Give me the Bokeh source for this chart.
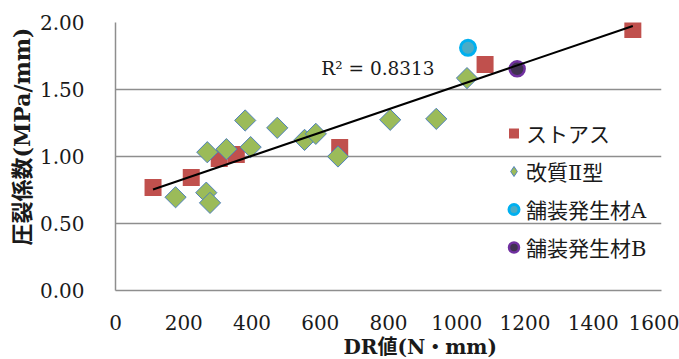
import numpy as np
from bokeh.plotting import figure
from bokeh.models import (Range1d, FixedTicker, NumeralTickFormatter, Label, Title,
                          Legend, LegendItem)
from bokeh.embed import file_html
from bokeh.resources import INLINE

# ---- data ----
stoas_x = [110, 222, 304, 354, 657, 1083, 1516]
stoas_y = [0.769, 0.843, 0.985, 1.015, 1.067, 1.687, 1.948]

kaishitsu_x = [176, 266, 277, 269, 325, 380, 396, 474, 554, 587, 652, 805, 940, 1030]
kaishitsu_y = [0.696, 0.730, 0.654, 1.032, 1.055, 1.269, 1.070, 1.214, 1.124, 1.169, 1.000, 1.274, 1.281, 1.585]

recycledA_x = [1033]
recycledA_y = [1.811]

recycledB_x = [1177]
recycledB_y = [1.654]

series_names = ["ストアス", "改質Ⅱ型", "舗装発生材A", "舗装発生材B"]
x_ticks = [0, 200, 400, 600, 800, 1000, 1200, 1400, 1600]
y_ticks = [0.0, 0.5, 1.0, 1.5, 2.0]
r2_text = "R² = 0.8313"
x_title = "DR値(N・mm)"
y_title = "圧裂係数(MPa/mm)"

SERIF = "DejaVu Serif, Noto Sans CJK JP"
INK = "#1a1a1a"
GRID = "#8E8E8E"

p = figure(width=679, height=359, output_backend="svg", toolbar_location=None,
           x_range=Range1d(0, 1600), y_range=Range1d(0, 2.0),
           min_border_left=115, min_border_right=18, min_border_top=22, min_border_bottom=69)
p.outline_line_color = None
p.background_fill_color = "white"

# axes
for ax in (p.xaxis[0], p.yaxis[0]):
    ax.axis_line_color = GRID
    ax.axis_line_width = 1.5
    ax.major_tick_line_color = None
    ax.minor_tick_line_color = None
    ax.major_tick_out = 0
    ax.major_tick_in = 0
    ax.minor_tick_out = 0
    ax.major_label_text_font = SERIF
    ax.major_label_text_font_size = "20px"
    ax.major_label_text_color = INK

p.xaxis.ticker = FixedTicker(ticks=x_ticks)
p.yaxis.ticker = FixedTicker(ticks=y_ticks)
p.xaxis.formatter = NumeralTickFormatter(format="0")
p.yaxis.formatter = NumeralTickFormatter(format="0.00")
p.xaxis.major_label_standoff = 24
p.yaxis.major_label_standoff = 31

p.xgrid.grid_line_color = None
p.ygrid.ticker = FixedTicker(ticks=y_ticks)
p.ygrid.grid_line_color = GRID
p.ygrid.grid_line_width = 1.5

# series
r_stoas = p.scatter(stoas_x, stoas_y, marker="square", size=17,
                    fill_color="#C0504D", line_color=None)
r_kai = p.scatter(kaishitsu_x, kaishitsu_y, marker="square", angle=np.pi / 4, size=15,
                  fill_color="#9BBB59", line_color="#4F81BD", line_width=1)
r_a = p.scatter(recycledA_x, recycledA_y, marker="circle", size=15,
                fill_color="#4BACC6", line_color="#00B0F0", line_width=3)
r_b = p.scatter(recycledB_x, recycledB_y, marker="circle", size=15,
                fill_color="#403151", line_color="#7030A0", line_width=2.5)

# legend proxy (diamond shape) -- not drawn in the plot area
r_kai_leg = p.scatter(x=[np.nan], y=[np.nan], marker="diamond", fill_color="#9BBB59",
                      line_color="#4F81BD", line_width=1)

# linear trendline over all points
all_x = np.array(stoas_x + kaishitsu_x + recycledA_x + recycledB_x, dtype=float)
all_y = np.array(stoas_y + kaishitsu_y + recycledA_y + recycledB_y, dtype=float)
slope, intercept = np.polyfit(all_x, all_y, 1)
tx = np.array([all_x.min(), all_x.max()])
p.line(tx, slope * tx + intercept, line_color="black", line_width=2)

# R² label
p.add_layout(Label(x=603, y=1.657, text=r2_text, text_font=SERIF,
                   text_font_size="18.5px", text_baseline="middle", text_color=INK))

# axis titles
p.add_layout(Title(text=x_title, align="left", offset=228, standoff=0,
                   text_font=SERIF, text_font_size="20px", text_font_style="bold",
                   text_color=INK), "below")
p.add_layout(Title(text=y_title, align="left", offset=45, standoff=3,
                   text_font=SERIF, text_font_size="22px", text_font_style="bold",
                   text_color=INK), "left")

legend = Legend(items=[LegendItem(label=series_names[0], renderers=[r_stoas]),
                       LegendItem(label=series_names[1], renderers=[r_kai_leg]),
                       LegendItem(label=series_names[2], renderers=[r_a]),
                       LegendItem(label=series_names[3], renderers=[r_b])],
                location=(386, 28), padding=0, margin=0, spacing=8,
                glyph_height=30, glyph_width=25, label_height=30, label_standoff=0,
                label_text_font=SERIF, label_text_font_size="21px",
                label_text_color=INK,
                background_fill_alpha=0, border_line_color=None)
p.add_layout(legend)

open("out.html", "w").write(file_html(p, INLINE))
